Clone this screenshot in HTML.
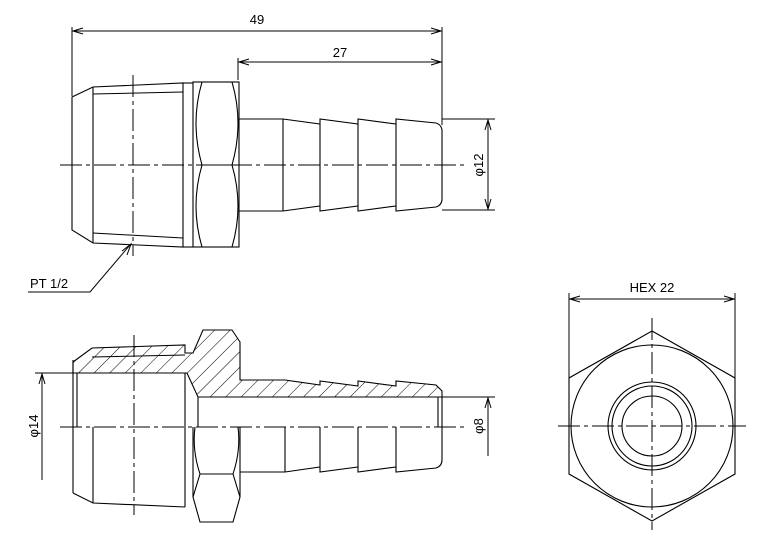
<!DOCTYPE html>
<html><head><meta charset="utf-8"><style>html,body{margin:0;padding:0;background:#fff}svg{display:block}</style></head>
<body>
<svg width="763" height="538" viewBox="0 0 763 538" xmlns="http://www.w3.org/2000/svg" font-family="Liberation Sans, sans-serif" font-size="13" fill="none" stroke="#000" stroke-width="1.1">
<defs>
<pattern id="h" patternUnits="userSpaceOnUse" width="11" height="11" patternTransform="rotate(45)">
<line x1="0" y1="0" x2="0" y2="11" stroke="#000" stroke-width="1"/>
</pattern>
</defs>
<g stroke-width="1">
<line x1="72" y1="27" x2="72" y2="96"/>
<line x1="442" y1="27" x2="442" y2="125"/>
<line x1="238" y1="58" x2="238" y2="80"/>
<line x1="72" y1="31" x2="442" y2="31"/>
<polyline points="83,28 73,31 83,34"/><polyline points="431,28 441,31 431,34"/>
<line x1="238" y1="62" x2="442" y2="62"/>
<polyline points="249,59 239,62 249,65"/><polyline points="431,59 441,62 431,65"/>
<line x1="442" y1="119" x2="495" y2="119"/><line x1="442" y1="210" x2="495" y2="210"/>
<line x1="488" y1="119" x2="488" y2="210"/>
<polyline points="485,130 488,120 491,130"/><polyline points="485,199 488,209 491,199"/>
<polyline points="28,292 90,292 130,245"/>
<polyline points="122,251 131,244 127,255"/>
</g>
<g fill="#000" stroke="none">
<text x="257" y="24" text-anchor="middle">49</text>
<text x="340" y="57" text-anchor="middle">27</text>
<text x="30" y="288">PT 1/2</text>
<text transform="translate(483,165) rotate(-90)" text-anchor="middle">φ12</text>
<text transform="translate(38,426) rotate(-90)" text-anchor="middle">φ14</text>
<text transform="translate(483,426) rotate(-90)" text-anchor="middle">φ8</text>
<text x="652" y="292" text-anchor="middle">HEX 22</text>
</g>
<g stroke-width="1" stroke-dasharray="22,4,4,4">
<line x1="60" y1="165" x2="465" y2="165"/>
<line x1="133" y1="75" x2="133" y2="256"/>
<line x1="60" y1="427" x2="465" y2="427"/>
<line x1="134" y1="335" x2="134" y2="515"/>
<line x1="558" y1="426" x2="746" y2="426"/>
<line x1="652" y1="318" x2="652" y2="530"/>
</g>
<polygon points="72,97 93,87 183,83 183,247 93,243 72,230"/>
<line x1="93" y1="87" x2="93" y2="243"/>
<line x1="93" y1="94" x2="183" y2="92" stroke-width="1"/>
<line x1="93" y1="233" x2="183" y2="238" stroke-width="1"/>
<rect x="193" y="82" width="46" height="165"/>
<line x1="183" y1="83" x2="193" y2="83"/><line x1="183" y1="247" x2="193" y2="247"/>
<path d="M202,82 Q190,123 202,165 Q190,206 202,247 M232,82 Q244,123 232,165 Q244,206 232,247 M202,165 H232"/>
<path d="M239,119 H283 L320,124 V119 L358,124 V119 L396,124 V119 L436,123 Q442,125 442,131 V199 Q442,205 436,207 L396,211 V206 L358,211 V206 L320,211 V206 L283,211 H239"/>
<path d="M283,119 V211 M320,124 V206 M358,124 V206 M396,124 V206"/>
<polygon fill="url(#h)" points="73,362 92,348 185,345 185,353 193,353 203,330 232,330 240,342 240,380 285,380 320,385 320,381 358,386 358,381 396,386 396,381 436,385 442,391 442,397 198,397 187,373 73,373"/>
<line x1="92" y1="357" x2="185" y2="355" stroke-width="1"/>
<line x1="73" y1="360" x2="73" y2="493"/>
<line x1="77" y1="373" x2="77" y2="427"/>
<line x1="93" y1="427" x2="93" y2="503"/>
<polyline points="73,493 93,503 185,507"/>
<line x1="185" y1="373" x2="185" y2="507"/>
<line x1="198" y1="397" x2="198" y2="427"/>
<line x1="438" y1="397" x2="438" y2="427"/>
<line x1="442" y1="397" x2="442" y2="427"/>
<line x1="193" y1="427" x2="193" y2="497"/>
<line x1="240" y1="427" x2="240" y2="497"/>
<path d="M195,427 Q192,450 200,474 M238,427 Q241,450 233,474 M200,474 H233"/>
<polygon points="200,474 193,497 200,522 233,522 240,497 233,474"/>
<path d="M240,472 H285 L320,467 V472 L358,467 V472 L396,467 V472 L436,468 Q442,466 442,460 V427"/>
<path d="M285,427 V472 M320,427 V467 M358,427 V467 M396,427 V467"/>
<g stroke-width="1">
<line x1="35" y1="373" x2="73" y2="373"/>
<line x1="42" y1="373" x2="42" y2="480"/>
<polyline points="39,384 42,374 45,384"/>
<line x1="442" y1="397" x2="495" y2="397"/>
<line x1="488" y1="397" x2="488" y2="456"/>
<polyline points="485,408 488,398 491,408"/>
</g>
<polygon points="652,331 735,378 735,474 652,521 569,474 569,378"/>
<circle cx="652" cy="426" r="81"/>
<circle cx="652" cy="426" r="44"/>
<circle cx="652" cy="426" r="40"/>
<circle cx="652" cy="426" r="30"/>
<g stroke-width="1">
<line x1="569" y1="293" x2="569" y2="378"/>
<line x1="735" y1="293" x2="735" y2="378"/>
<line x1="569" y1="299" x2="735" y2="299"/>
<polyline points="580,296 570,299 580,302"/><polyline points="724,296 734,299 724,302"/>
</g>
</svg>
</body></html>
